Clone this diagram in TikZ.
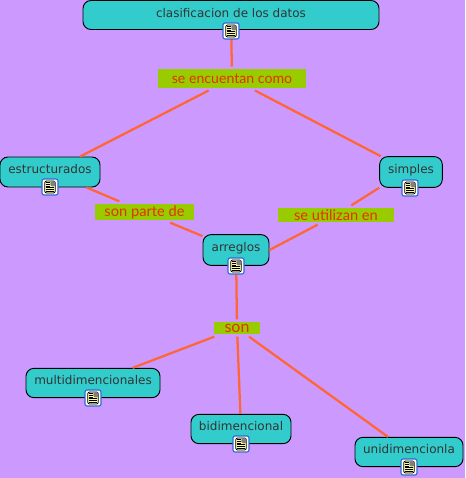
\documentclass[tikz,border=0pt]{standalone}
\usepackage{fontspec}
\setmainfont{DejaVu Sans}
\newfontfamily\phrasefont{Lato}
\definecolor{mapbg}{HTML}{CC99FF}
\definecolor{conceptfill}{HTML}{33CCCC}
\definecolor{phrasefill}{HTML}{99CC00}
\definecolor{phrasetext}{HTML}{E63000}
\definecolor{linkcolor}{HTML}{FF6633}
\definecolor{iconblue}{HTML}{3366CC}
\tikzset{
	concept/.style={draw=black, line width=0.7pt, fill=conceptfill, rounded corners=6pt, inner sep=0pt, text=black!80, text height=7pt, text depth=4.5pt, font=\fontsize{9}{11}\selectfont},
	phrase/.style={fill=phrasefill, inner sep=0pt, outer sep=2pt, text=phrasetext, font=\phrasefont\fontsize{10.6}{13}\selectfont},
	link/.style={draw=linkcolor, line width=1.7pt},
	noteicon/.style={draw=iconblue, line width=0.8pt, fill=white, rounded corners=1.5pt, minimum size=12pt, inner sep=0pt,
		path picture={
			\fill[yellow!35] ([shift={(-4pt,-4.5pt)}]path picture bounding box.center) rectangle ([shift={(4pt,4.5pt)}]path picture bounding box.center);
			\draw[black, line width=0.6pt] ([shift={(-4pt,-4.5pt)}]path picture bounding box.center) rectangle ([shift={(4pt,4.5pt)}]path picture bounding box.center);
			\fill[gray] ([shift={(0.3pt,0.5pt)}]path picture bounding box.center) rectangle ([shift={(4pt,4.5pt)}]path picture bounding box.center);
			\foreach \lineoff in {-3.2,-1.9,-0.6}
				\draw[black, line width=0.5pt] ([shift={(-3pt,\lineoff pt)}]path picture bounding box.center) -- ([shift={(3pt,\lineoff pt)}]path picture bounding box.center);
			\foreach \lineoff in {0.8,2.1,3.4}
				\draw[black, line width=0.5pt] ([shift={(-3pt,\lineoff pt)}]path picture bounding box.center) -- ([shift={(-0.3pt,\lineoff pt)}]path picture bounding box.center);
		}},
}
\begin{document}
\begin{tikzpicture}[x=0.75pt, y=-0.75pt]
	\fill[mapbg] (0,0) rectangle (465,478);
	\useasboundingbox (0,0) rectangle (465,478);

	% concepts
	\node[concept, minimum width=222pt, minimum height=21.75pt, text depth=3.5pt] (datos) at (231,15) {clasificacion de los datos};
	\node[concept, minimum width=75pt, minimum height=22.5pt] (estructurados) at (50,172) {estructurados};
	\node[concept, minimum width=47pt, minimum height=23pt] (simples) at (411,172) {simples};
	\node[concept, minimum width=49.5pt, minimum height=23pt] (arreglos) at (236,250) {arreglos};
	\node[concept, minimum width=100.5pt, minimum height=22pt] (multi) at (93,383) {multidimencionales};
	\node[concept, minimum width=75pt, minimum height=22pt] (bi) at (241,429) {bidimencional};
	\node[concept, minimum width=81pt, minimum height=22pt] (uni) at (409,452) {unidimencionla};

	% linking phrases
	\node[phrase, minimum width=111pt, minimum height=14pt] (encuentan) at (232,78.5) {se encuentan como};
	\node[phrase, minimum width=74pt, minimum height=12pt, font=\phrasefont\fontsize{11}{13}\selectfont] (parte) at (144.5,212) {son parte de};
	\node[phrase, minimum width=87pt, minimum height=10.5pt, font=\phrasefont\fontsize{11}{13}\selectfont] (utilizan) at (336,215) {se utilizan en};
	\node[phrase, minimum width=34.5pt, minimum height=9pt, font=\phrasefont\fontsize{12}{13}\selectfont] (son) at (237,328) {son};

	\draw[link] (datos) -- (encuentan);
	\draw[link] (encuentan) -- (estructurados);
	\draw[link] (encuentan) -- (simples);
	\draw[link] (estructurados) -- (parte);
	\draw[link] (parte) -- (arreglos);
	\draw[link] (simples.south west) -- (utilizan);
	\draw[link] (utilizan) -- (arreglos.east);
	\draw[link] (arreglos) -- (son);
	\draw[link] (son) -- (multi);
	\draw[link] (son) -- (bi);
	\draw[link] (son) -- (uni);

	% icons
	\node[noteicon] (icon1) at (231,31) {};
	\node[noteicon] (icon2) at (50,187) {};
	\node[noteicon] (icon3) at (410,188) {};
	\node[noteicon] (icon4) at (236,266) {};
	\node[noteicon] (icon5) at (93,398) {};
	\node[noteicon] (icon6) at (241,444) {};
	\node[noteicon] (icon7) at (409,467) {};
\end{tikzpicture}
\end{document}
